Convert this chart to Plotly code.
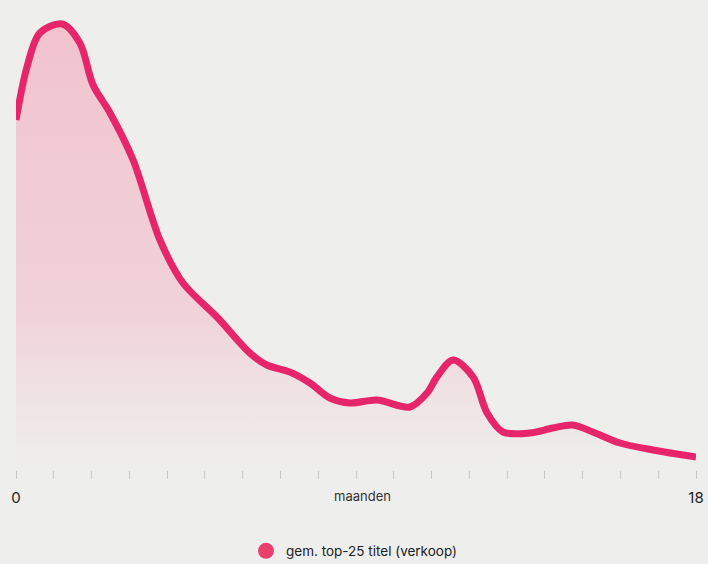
import plotly.graph_objects as go

# months (x) and average top-25 title sales index (y)
months = [0.0, 0.29, 0.63, 1.22, 1.69, 2.04, 2.49, 3.1, 3.81, 4.42, 5.32, 6.19, 6.64,
          7.25, 7.78, 8.31, 8.84, 9.56, 10.43, 10.88, 11.14, 11.57, 12.1, 12.47,
          12.89, 13.6, 14.21, 14.74, 15.27, 15.99, 16.86, 18.0]
sales = [350, 403, 437, 446, 427, 385, 357, 310, 230, 187, 153, 117, 105,
         98, 87, 72, 67, 70, 63, 77, 93, 110, 93, 57,
         38, 37, 42, 45, 38, 27, 20, 13]

tick_vals = list(range(0, 19))
tick_text = ["0"] + [""] * 17 + ["18"]
series_name = "gem. top-25 titel (verkoop)"
axis_title = "maanden"

BG = "#eeeeed"
LINE = "#e6256b"
FONT = "Inter, Roboto, 'Noto Sans', sans-serif"

fig = go.Figure()
fig.add_trace(go.Scatter(
    x=months, y=sales, mode="lines",
    line=dict(color=LINE, width=7, shape="spline", smoothing=0.9),
    fill="tozeroy",
    fillgradient=dict(
        type="vertical",
        colorscale=[[0.0, "rgba(238,238,237,0)"],
                    [0.08, "rgba(240,220,225,0.35)"],
                    [0.35, "rgba(241,205,214,0.85)"],
                    [1.0, "rgba(241,195,207,1)"]],
    ),
    showlegend=False, hoverinfo="skip", cliponaxis=False,
))
fig.add_trace(go.Scatter(
    x=[None], y=[None], mode="markers", name=series_name,
    marker=dict(color="#e8406b", size=16),
))

fig.add_annotation(text=axis_title, x=9, y=0, xref="x", yref="y",
                   xshift=6, yshift=-26, showarrow=False,
                   font=dict(size=13, color="#333333", family=FONT))

fig.update_layout(
    width=708, height=564,
    paper_bgcolor=BG, plot_bgcolor=BG,
    margin=dict(l=16, r=12, t=10, b=94),
    font=dict(family=FONT, color="#222222"),
    xaxis=dict(range=[0, 18], tickvals=tick_vals, ticktext=tick_text,
               ticks="outside", ticklen=8, tickwidth=1, tickcolor="#c8c8c8",
               showgrid=False, zeroline=False, showline=False, automargin=False,
               ticklabeloverflow="allow",
               tickfont=dict(size=15, color="#222222"), ticklabelstandoff=6),
    yaxis=dict(range=[0, 460], visible=False, automargin=False),
    legend=dict(orientation="h", x=0.5, xanchor="center", xref="container",
                y=0.023, yanchor="middle", yref="container",
                font=dict(size=13.5, color="#222222"), bgcolor="rgba(0,0,0,0)"),
)

fig.write_html("out.html", config={"displayModeBar": False},
               post_script="document.body.style.margin='0';document.body.style.background='#eeeeed';")
